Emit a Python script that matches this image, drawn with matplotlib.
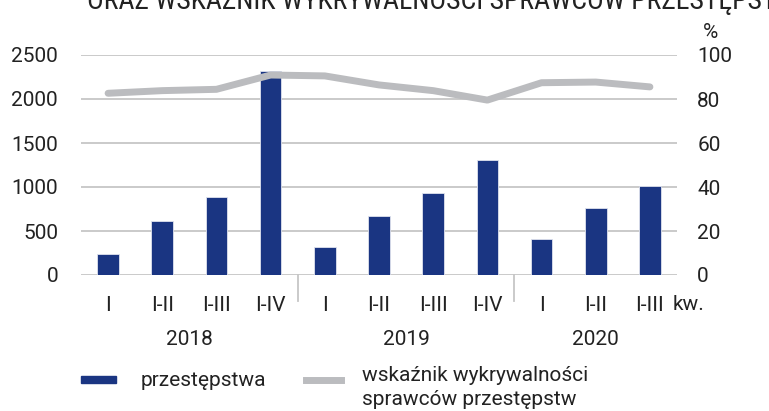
import matplotlib
matplotlib.use("Agg")
import matplotlib.pyplot as plt
import matplotlib.transforms as mtransforms
from matplotlib.patches import Rectangle
from matplotlib.lines import Line2D

plt.rcParams['font.family'] = ['Roboto', 'DejaVu Sans']

categories = ["I", "I-II", "I-III", "I-IV", "I", "I-II", "I-III", "I-IV", "I", "I-II", "I-III"]
years = ["2018", "2019", "2020"]
year_sizes = [4, 4, 3]
crimes = [240, 610, 883, 2318, 315, 667, 928, 1307, 405, 761, 1008]
detection = [82.6, 83.8, 84.4, 90.9, 90.5, 86.4, 83.8, 79.5, 87.4, 87.7, 85.5]
title = "ORAZ WSKAŹNIK WYKRYWALNOŚCI SPRAWCÓW PRZESTĘPSTW"
legend_labels = ["przestępstwa", "wskaźnik wykrywalności\nsprawców przestępstw"]

navy = "#1a3582"
gray_line = "#bbbcbf"
grid_c = "#c6c6c6"
text_c = "#222222"
fs = 15

fig = plt.figure(figsize=(7.69, 4.11), dpi=100)
W, H = 769, 411
ax = fig.add_axes([81 / W, 1 - 275 / H, (677 - 81) / W, (275 - 55) / H])
x = list(range(len(categories)))

ax.set_axisbelow(True)
ax.bar(x, crimes, width=0.4, color=navy, edgecolor="#dfe3ee", linewidth=0.6, zorder=2)
ax.set_ylim(0, 2500)
ax.set_yticks([0, 500, 1000, 1500, 2000, 2500])
ax.set_xlim(-0.5, len(categories) - 0.5)
ax.grid(axis="y", color=grid_c, linewidth=1.3)
for s in ax.spines.values():
    s.set_visible(False)
ax.tick_params(axis="y", length=0, pad=16.5, labelsize=fs, labelcolor=text_c)
ax.set_xticks(x)
ax.set_xticklabels(categories, fontsize=fs, color=text_c)
ax.tick_params(axis="x", length=0, pad=15)

ax2 = ax.twinx()
ax2.plot(x, detection, color=gray_line, linewidth=5, solid_capstyle="round", zorder=3)
ax2.set_ylim(0, 100)
ax2.set_yticks([0, 20, 40, 60, 80, 100])
for s in ax2.spines.values():
    s.set_visible(False)
ax2.tick_params(axis="y", length=0, pad=14.5, labelsize=fs, labelcolor=text_c)
ax2.text(703 / W, 1 - 33 / H, "%", transform=fig.transFigure, fontsize=fs, color=text_c,
         ha="left", va="center")

# separators and year labels
trans = mtransforms.blended_transform_factory(ax.transData, ax.transAxes)
start = 0
for i, (yr, n) in enumerate(zip(years, year_sizes)):
    center = start + (n - 1) / 2
    ax.text(center, -0.295, yr, transform=trans, ha="center", va="center", fontsize=fs, color=text_c)
    if i < len(years) - 1:
        ax.plot([start + n - 0.5] * 2, [0, -0.12], transform=trans, color=grid_c,
                linewidth=1.3, clip_on=False)
    start += n

fig.text(673 / W, 1 - 304 / H, "kw.", fontsize=fs, color=text_c, ha="left", va="center")

# title (clipped at top)
fig.text(87 / W, 1 - 9 / H, title, fontsize=20, color=text_c, ha="left", va="baseline",
         family=["Roboto Condensed", "Roboto", "DejaVu Sans"])

# legend
fig.add_artist(Rectangle((81 / W, 1 - 383 / H), 35 / W, 7 / H, transform=fig.transFigure,
                         color=navy))
fig.text(141 / W, 1 - 380 / H, legend_labels[0], fontsize=fs, color=text_c, ha="left", va="center")
fig.add_artist(Line2D([306 / W, 341 / W], [1 - 380 / H] * 2, transform=fig.transFigure,
                      color=gray_line, linewidth=5))
fig.text(362 / W, 1 - 366 / H, legend_labels[1], fontsize=fs, color=text_c, ha="left", va="top",
         linespacing=1.3)

fig.savefig("out.png", dpi=100)
